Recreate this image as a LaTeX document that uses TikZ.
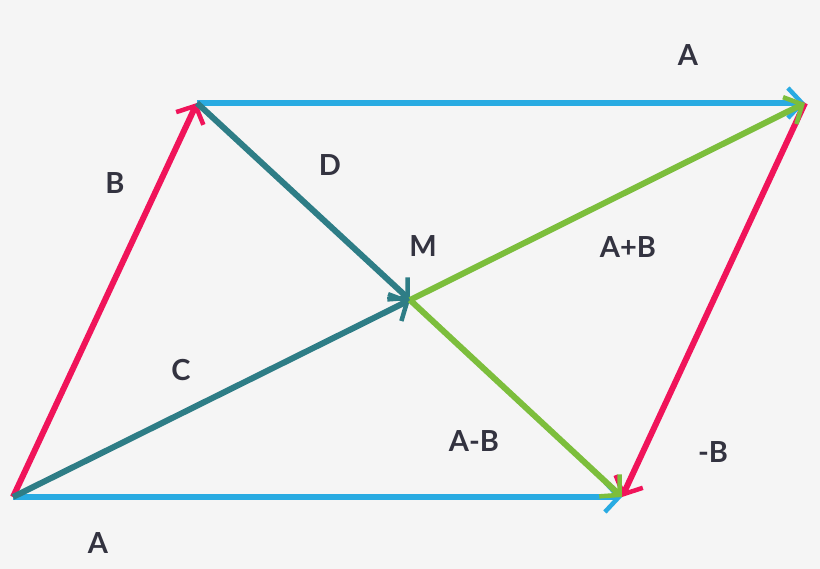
\documentclass[tikz,border=0pt]{standalone}
\usepackage{fontspec}
\setmainfont{Lato}
\usetikzlibrary{arrows.meta}
\definecolor{skyblue}{RGB}{41, 171, 226}
\definecolor{rose}{RGB}{240, 20, 90}
\definecolor{teal}{RGB}{46, 125, 134}
\definecolor{lime}{RGB}{124, 190, 60}
\definecolor{ink}{RGB}{51, 51, 64}
\definecolor{paper}{RGB}{245, 245, 245}

\begin{document}
\begin{tikzpicture}[x=1pt,y=-1pt,
  vec/.style={line width=6pt,-{Straight Barb[length=14pt,width=30pt,line width=4.5pt]}},
  lbl/.style={text=ink,font=\bfseries\fontsize{29}{29}\selectfont}]
\fill[paper] (0,0) rectangle (820,569);
\useasboundingbox (0,0) rectangle (820,569);

\coordinate (o) at (13,497);
\coordinate (b) at (197,103);
\coordinate (ab) at (805,103);
\coordinate (a) at (622,497);
\coordinate (m) at (410,300);

\draw[vec,skyblue] (o)--(a);
\draw[vec,skyblue] (b)--(ab);
\draw[vec,rose] (o)--(b);
\draw[vec,rose] (ab)--(a);
\draw[vec,teal] (o)--(m);
\draw[vec,teal] (b)--(m);
\draw[vec,lime] (m)--(ab);
\draw[vec,lime] (m)--(a);

\node[lbl] (la1) at (98,543) {A};
\node[lbl] (la2) at (688,55) {A};
\node[lbl] (lb) at (115,183) {B};
\node[lbl] (ld) at (330,165) {D};
\node[lbl] (lm) at (423,246) {M};
\node[lbl] (lsum) at (628,247) {A+B};
\node[lbl] (lc) at (181,370) {C};
\node[lbl] (ldiff) at (474,441) {A-B};
\node[lbl] (lnb) at (713,452) {-B};

\end{tikzpicture}
\end{document}
